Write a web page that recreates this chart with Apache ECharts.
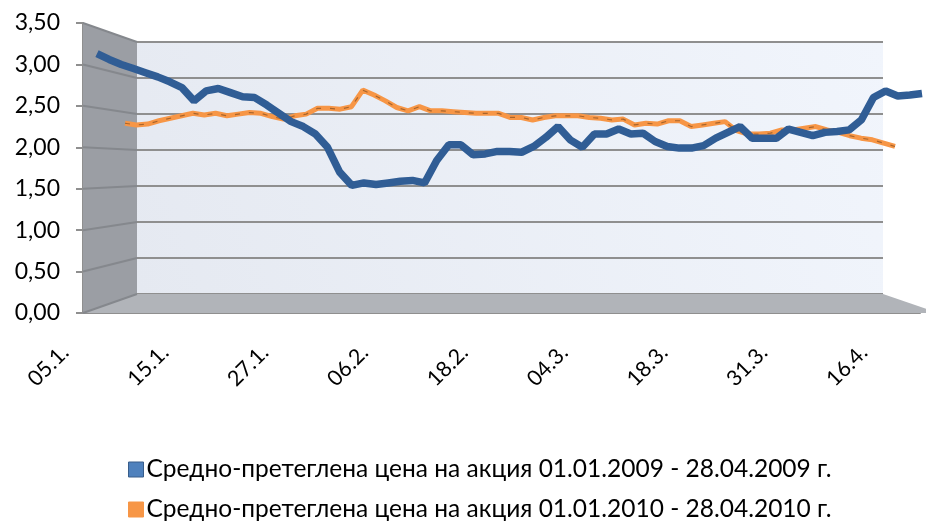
<!DOCTYPE html>
<html>
<head>
<meta charset="utf-8">
<title>Средно-претеглена цена на акция</title>
<script src="https://cdn.jsdelivr.net/npm/echarts@6/dist/echarts.min.js"></script>
<style>
  html, body { margin: 0; padding: 0; background: #fff; }
  #main { width: 926px; height: 522px; }
</style>
</head>
<body>
<div id="main"></div>
<script>
// дати (търговски дни)
var categories = [
  '05.1.', '06.1.', '07.1.', '08.1.', '09.1.', '12.1.', '13.1.', '14.1.',
  '15.1.', '16.1.', '19.1.', '20.1.', '21.1.', '22.1.', '23.1.', '26.1.',
  '27.1.', '28.1.', '29.1.', '30.1.', '02.2.', '03.2.', '04.2.', '05.2.',
  '06.2.', '09.2.', '10.2.', '11.2.', '12.2.', '13.2.', '16.2.', '17.2.',
  '18.2.', '19.2.', '20.2.', '23.2.', '24.2.', '25.2.', '26.2.', '02.3.',
  '04.3.', '05.3.', '06.3.', '09.3.', '11.3.', '12.3.', '13.3.', '16.3.',
  '18.3.', '19.3.', '20.3.', '23.3.', '24.3.', '25.3.', '26.3.', '30.3.',
  '31.3.', '01.4.', '03.4.', '06.4.', '08.4.', '09.4.', '10.4.', '14.4.',
  '16.4.', '21.4.', '22.4.', '23.4.', '27.4.'
];
var price2009 = [
  3.13, 3.06, 3.00, 2.95, 2.90, 2.85, 2.79, 2.72, 2.56, 2.68,
  2.71, 2.66, 2.61, 2.60, 2.51, 2.41, 2.31, 2.25, 2.16, 2.00,
  1.70, 1.54, 1.57, 1.55, 1.57, 1.59, 1.60, 1.57, 1.84, 2.03,
  2.03, 1.91, 1.92, 1.95, 1.95, 1.94, 2.01, 2.12, 2.25, 2.09,
  2.00, 2.16, 2.16, 2.22, 2.16, 2.17, 2.07, 2.01, 1.99, 1.99,
  2.02, 2.11, 2.18, 2.25, 2.11, 2.11, 2.11, 2.22, 2.18, 2.14,
  2.18, 2.19, 2.21, 2.33, 2.60, 2.68, 2.62, 2.63, 2.65
];
var price2010 = [
  2.29, 2.27, 2.28, 2.32, 2.35, 2.38, 2.41, 2.39, 2.41, 2.38,
  2.40, 2.42, 2.41, 2.37, 2.34, 2.38, 2.40, 2.47, 2.47, 2.46,
  2.49, 2.69, 2.63, 2.56, 2.48, 2.44, 2.49, 2.44, 2.44, 2.43,
  2.42, 2.41, 2.41, 2.41, 2.36, 2.36, 2.33, 2.36, 2.38, 2.38,
  2.38, 2.36, 2.35, 2.33, 2.34, 2.27, 2.29, 2.28, 2.32, 2.32,
  2.25, 2.27, 2.29, 2.31, 2.20, 2.16, 2.16, 2.17, 2.21, 2.21,
  2.23, 2.25, 2.21, 2.18, 2.14, 2.11, 2.09, 2.05, 2.01
];
var yMin = 0, yMax = 3.5, yStep = 0.5;
var name2009 = 'Средно-претеглена цена на акция 01.01.2009 - 28.04.2009 г.';
var name2010 = 'Средно-претеглена цена на акция 01.01.2010 - 28.04.2010 г.';

var FONT = 'Lato';
var GRID_LINE = '#8f8f8f';

function hiddenY() {
  return { type: 'value', min: yMin, max: yMax, interval: yStep, show: false, splitLine: { show: false } };
}
function hiddenX(gap) {
  return { type: 'category', data: categories, boundaryGap: gap, show: false };
}
function legendFor(name, top, itemStyle) {
  return {
    left: 123, top: top, icon: 'rect', itemWidth: 15, itemHeight: 15, itemGap: 0,
    textStyle: { fontSize: 24.5, color: '#000', fontFamily: FONT, padding: [0, 0, 0, -2] },
    data: [{ name: name, itemStyle: itemStyle }]
  };
}

var myChart = echarts.init(document.getElementById('main'));
var option = {
  animation: false,
  textStyle: { fontFamily: FONT },
  grid: [
    // задна стена
    { left: 137, right: 43, top: 42, bottom: 228, show: true, borderWidth: 0,
      backgroundColor: new echarts.graphic.LinearGradient(0, 1, 1, 0, [
        { offset: 0, color: '#e5e9f1' }, { offset: 1, color: '#f1f5fc' }
      ]) },
    // предна ос
    { left: 83, right: 6, top: 23, bottom: 209 },
    // надписи на категориите
    { left: 59, right: 6, top: 23, bottom: 209 },
    // 2009
    { left: 97, right: 4, top: 23, bottom: 209 },
    // 2010
    { left: 125, right: 31, top: 23, bottom: 209 }
  ],
  xAxis: [
    hiddenX(true),
    { gridIndex: 1, type: 'category', data: categories, boundaryGap: true,
      axisLine: { lineStyle: { color: GRID_LINE, width: 2 } },
      axisTick: { interval: 0, length: 7, lineStyle: { color: GRID_LINE, width: 2 } },
      axisLabel: { show: false } },
    { gridIndex: 2, type: 'category', data: categories, boundaryGap: true,
      axisLine: { show: false }, axisTick: { show: false },
      axisLabel: { interval: 7, rotate: 45, margin: 36, color: '#000', fontSize: 21.5, fontFamily: FONT } },
    Object.assign(hiddenX(false), { gridIndex: 3 }),
    Object.assign(hiddenX(false), { gridIndex: 4 })
  ],
  yAxis: [
    { gridIndex: 0, type: 'value', min: yMin, max: yMax, interval: yStep,
      axisLine: { show: false }, axisTick: { show: false }, axisLabel: { show: false },
      splitLine: { lineStyle: { color: GRID_LINE, width: 2 } } },
    { gridIndex: 1, type: 'value', min: yMin, max: yMax, interval: yStep,
      axisLine: { show: true, lineStyle: { color: GRID_LINE, width: 2 } },
      axisTick: { show: true, length: 7, lineStyle: { color: GRID_LINE, width: 2 } },
      splitLine: { show: false },
      axisLabel: { margin: 23, color: '#000', fontSize: 23, fontFamily: FONT,
        formatter: function (v) { return v.toFixed(2).replace('.', ','); } } },
    Object.assign(hiddenY(), { gridIndex: 2 }),
    Object.assign(hiddenY(), { gridIndex: 3 }),
    Object.assign(hiddenY(), { gridIndex: 4 })
  ],
  legend: [
    legendFor(name2009, 452, { color: '#4f81bd', borderColor: '#385d8a', borderWidth: 1 }),
    legendFor(name2010, 492, { color: '#f79646', borderColor: '#f79646', borderWidth: 1 })
  ],
  series: [
    { name: name2010, type: 'line', xAxisIndex: 4, yAxisIndex: 4, data: price2010,
      showSymbol: false, z: 3, color: '#f79646',
      lineStyle: { color: '#f79646', width: 5 } },
    { name: 'edge2010', type: 'line', xAxisIndex: 4, yAxisIndex: 4, data: price2010,
      showSymbol: false, z: 4, silent: true,
      lineStyle: { color: 'rgba(70,40,10,0.45)', width: 1.2, type: [5, 9] } },
    { name: name2009, type: 'line', xAxisIndex: 3, yAxisIndex: 3, data: price2009,
      showSymbol: false, z: 5, color: '#4f81bd',
      lineStyle: { color: '#305d95', width: 7.5 } }
  ]
};
myChart.setOption(option);

// страничната стена и пода (3D декорация) по скалите на осите
var yF = function (v) { return myChart.convertToPixel({ yAxisIndex: 1 }, v); };
var yB = function (v) { return myChart.convertToPixel({ yAxisIndex: 0 }, v); };
var fl = 83, bl = 137, br = 883, fr = 938;
var deco = [
  { type: 'polygon', z: 1, shape: { points: [[fl, yF(yMax)], [bl, yB(yMax)], [bl, yB(yMin)], [fl, yF(yMin)]] },
    style: { fill: '#9b9ea4' } },
  { type: 'polygon', z: 1, shape: { points: [[fl, yF(yMin)], [bl, yB(yMin)], [br, yB(yMin)], [fr, yF(yMin)]] },
    style: { fill: '#b1b4b9' } }
];
for (var v = yMin; v <= yMax + 1e-9; v += yStep) {
  deco.push({ type: 'line', z: 1,
    shape: { x1: fl, y1: yF(v), x2: bl, y2: yB(v) },
    style: { stroke: '#85888d', lineWidth: 2 } });
}
myChart.setOption({ graphic: deco });
</script>
</body>
</html>
